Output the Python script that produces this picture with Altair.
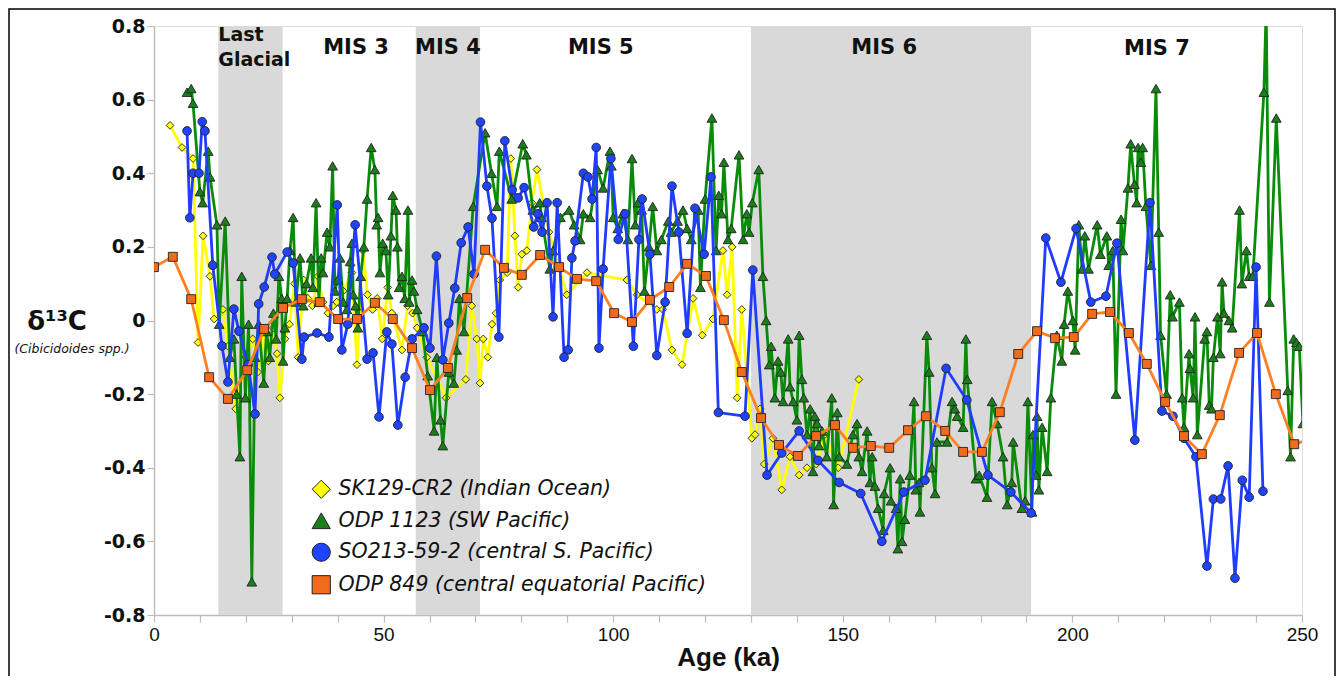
import altair as alt
import pandas as pd

# ---------------- data ----------------
series_names = ["SK129-CR2 (Indian Ocean)", "ODP 1123 (SW Pacific)",
                "SO213-59-2 (central S. Pacific)", "ODP 849 (central equatorial Pacific)"]

yellow_age = [3.5, 6.1, 8.5, 9.6, 10.7, 12.2, 13.1, 15.0, 16.1, 17.8, 20.0, 21.5, 22.6, 24.0, 24.9, 26.0,
              26.8, 27.4, 28.5, 29.5, 30.6, 31.4, 32.6, 33.5, 34.5, 35.7, 36.8, 37.9, 39.0, 39.8, 41.2,
              43.1, 44.2, 45.5, 46.5, 47.6, 48.6, 49.7, 50.9, 51.8, 54.0, 55.2, 56.3, 57.3, 59.4, 63.6,
              67.9, 69.2, 70.3, 71.0, 71.7, 72.7, 73.6, 74.5, 75.3, 76.9, 77.7, 78.6, 79.3, 80.1, 81.2,
              82.3, 83.4, 86.0, 89.9, 94.3, 103.0, 105.2, 109.5, 110.8, 112.8, 115.0, 117.4, 119.4,
              121.7, 123.9, 124.8, 125.9, 127.0, 128.0, 130.2, 130.9, 132.0, 132.9, 134.8, 136.7, 138.5,
              140.5, 142.2, 144.2, 146.1, 149.0, 153.5]
yellow_val = [0.53, 0.47, 0.44, -0.06, 0.23, 0.12, 0.004, 0.03, -0.07, -0.24, -0.10, -0.05, -0.14, -0.03,
              -0.11, -0.02, -0.09, -0.21, -0.05, -0.01, 0.10, -0.10, 0.11, 0.06, 0.04, 0.12, 0.05, 0.02,
              0.04, 0.05, 0.08, 0.13, -0.12, 0.19, 0.07, 0.03, 0.06, -0.05, 0.09, 0.02, -0.08, 0.04, 0.02,
              -0.02, -0.10, -0.21, -0.16, 0.04, -0.05, -0.17, -0.05, -0.10, -0.01, 0.02, 0.11, 0.13, 0.44,
              0.23, 0.09, 0.18, 0.19, 0.32, 0.41, 0.24, 0.07, 0.13, 0.11, 0.07, 0.03, 0.03, -0.08, -0.12,
              0.06, -0.04, 0.004, 0.19, 0.07, 0.20, -0.21, 0.03, -0.32, -0.31, -0.24, -0.39, -0.32, -0.46,
              -0.37, -0.42, -0.40, -0.39, -0.31, -0.40, -0.16]

green_age = [7.2, 8.1, 8.5, 10.0, 10.6, 11.8, 12.2, 13.7, 14.2, 15.5, 16.5, 17.4, 18.0, 18.7, 19.1, 19.9,
             20.6, 21.3, 22.0, 22.8, 23.9, 24.5, 25.2, 26.0, 26.6, 27.2, 27.8, 28.1, 28.5, 29.0, 29.6,
             30.3, 30.9, 31.8, 32.5, 33.2, 34.2, 34.6, 35.3, 35.9, 36.4, 36.8, 37.7, 38.3, 38.9, 39.4,
             40.0, 40.5, 41.2, 42.0, 42.7, 43.1, 43.4, 43.9, 44.4, 45.0, 45.7, 46.4, 47.3, 48.1, 48.5,
             48.8, 49.2, 49.8, 50.5, 51.0, 51.6, 52.0, 52.7, 53.0, 53.4, 54.0, 54.6, 55.3, 55.6, 56.2,
             56.6, 57.3, 58.5, 59.6, 61.0, 61.6, 62.4, 62.9, 64.2, 65.3, 65.9, 66.5, 67.5, 69.5, 72.1,
             73.5, 74.7, 75.2, 77.9, 80.3, 81.1, 82.5, 84.0, 84.4, 86.2, 86.9, 88.5, 90.4, 91.5, 92.8,
             93.5, 95.0, 96.6, 97.8, 99.3, 99.6, 100.0, 101.0, 102.1, 103.2, 104.1, 104.8, 105.4, 106.2,
             106.8, 107.8, 108.6, 109.5, 110.5, 112.0, 112.6, 114.0, 115.2, 116.1, 117.0, 118.5, 119.0,
             120.0, 121.5, 122.4, 123.0, 123.6, 124.1, 125.0, 125.7, 127.4, 128.3, 129.1, 129.6, 130.3,
             131.7, 132.6, 133.3, 134.0, 134.4, 135.2, 135.9, 136.5, 137.0, 138.1, 138.5, 139.2, 140.0,
             140.5, 141.1, 141.5, 142.2, 142.9, 143.5, 143.9, 144.4, 144.8, 145.5, 146.5, 147.6, 148.0,
             148.8, 149.2, 150.9, 152.2, 153.1, 153.5, 154.2, 155.3, 155.9, 156.4, 157.0, 157.7, 158.8,
             159.0, 160.3, 160.5, 161.6, 162.0, 162.5, 162.9, 163.5, 164.6, 165.5, 165.9, 166.6, 166.8,
             168.3, 168.8, 169.4, 170.1, 170.5, 172.7, 173.8, 174.4, 174.9, 176.2, 176.8, 177.1, 179.0,
             179.7, 181.4, 182.5, 183.6, 184.9, 185.8, 186.8, 187.1, 189.0, 189.7, 190.3, 191.2, 191.4,
             192.1, 192.3, 192.7, 193.4, 194.5, 195.3, 196.6, 197.7, 198.2, 199.0, 200.1, 200.6, 201.4,
             202.1, 202.7, 203.5, 205.4, 206.1, 207.5, 207.9, 208.8, 209.5, 210.6, 211.0, 212.1, 212.7,
             213.5, 214.0, 214.3, 214.9, 215.3, 216.0, 217.1, 218.2, 218.8, 219.2, 220.5, 221.3, 221.8,
             223.3, 223.9, 224.3, 225.4, 225.6, 226.3, 226.7, 227.2, 228.8, 229.3, 229.8, 230.3, 230.7,
             231.6, 232.2, 232.6, 233.0, 234.1, 234.8, 236.4, 236.9, 237.9, 238.5, 239.3, 241.7, 242.2,
             242.9, 244.4, 246.9, 247.5, 248.2, 248.8, 249.4, 250.2]
green_val = [0.62, 0.63, 0.59, 0.35, 0.32, 0.46, 0.39, 0.26, -0.01, 0.27, -0.10, -0.05, -0.20, -0.37, 0.12,
             -0.21, -0.01, -0.71, -0.10, -0.01, -0.17, -0.03, -0.10, 0.02, -0.05, 0.12, 0.06, -0.11, -0.02,
             0.06, 0.19, 0.28, 0.05, 0.17, 0.04, 0.10, 0.17, 0.09, 0.32, 0.05, 0.17, 0.13, 0.24, 0.20,
             0.42, 0.08, 0.11, 0.17, 0.05, 0.03, 0.16, 0.21, 0.07, 0.04, -0.02, 0.12, 0.20, 0.33, 0.47,
             0.41, 0.26, 0.28, 0.13, 0.21, 0.19, 0.07, 0.23, 0.34, 0.30, 0.20, 0.09, 0.12, 0.06, 0.30,
             0.05, 0.11, 0.08, 0.03, -0.03, -0.15, -0.30, -0.10, -0.27, -0.34, -0.14, -0.17, -0.08, 0.06,
             -0.03, 0.31, 0.51, 0.40, 0.31, 0.46, 0.33, 0.48, 0.45, 0.30, 0.32, 0.28, 0.14, 0.19, 0.28,
             0.30, 0.26, 0.22, 0.29, 0.28, 0.41, 0.36, 0.46, 0.42, 0.28, 0.25, 0.29, 0.22, 0.44, 0.26,
             0.32, 0.30, 0.08, 0.20, 0.31, 0.19, 0.22, 0.27, 0.24, 0.27, 0.30, 0.25, 0.22, 0.30, 0.09,
             0.33, 0.55, 0.19, 0.34, 0.29, 0.43, 0.22, 0.25, 0.45, 0.22, 0.29, 0.24, 0.32, 0.41, 0.12,
             0.00, -0.12, -0.07, -0.21, -0.11, -0.14, -0.22, -0.05, -0.18, -0.22, -0.27, -0.04, -0.16,
             -0.21, -0.31, -0.24, -0.41, -0.26, -0.28, -0.34, -0.30, -0.37, -0.21, -0.50, -0.25, -0.37,
             -0.39, -0.31, -0.28, -0.37, -0.41, -0.30, -0.44, -0.37, -0.45, -0.51, -0.57, -0.47, -0.40,
             -0.49, -0.51, -0.62, -0.43, -0.60, -0.54, -0.42, -0.22, -0.46, -0.44, -0.52, -0.04, -0.14,
             -0.40, -0.47, -0.33, -0.33, -0.22, -0.24, -0.26, -0.29, -0.05, -0.16, -0.43, -0.42, -0.48,
             -0.22, -0.28, -0.37, -0.50, -0.44, -0.33, -0.51, -0.49, -0.22, -0.52, -0.31, -0.42, -0.26,
             -0.46, -0.29, -0.41, -0.21, -0.04, -0.11, -0.01, 0.08, 0.00, -0.08, 0.26, 0.14, 0.23, 0.14,
             0.26, 0.18, 0.23, 0.15, 0.19, -0.20, 0.275, 0.19, 0.36, 0.48, 0.37, 0.32, 0.47, 0.43, 0.47,
             0.31, 0.15, 0.63, 0.24, -0.04, -0.20, 0.07, 0.01, 0.05, -0.21, -0.29, -0.09, -0.13, -0.21,
             0.01, -0.31, -0.05, -0.03, -0.23, -0.24, -0.10, 0.01, -0.09, 0.105, 0.02, 0.00, -0.02, 0.30,
             0.10, 0.19, 0.12, 0.12, 0.62, 0.85, 0.05, 0.55, -0.19, -0.37, -0.05, -0.06, -0.07, -0.28]

blue_age = [7.2, 7.8, 8.5, 9.8, 10.5, 11.1, 12.8, 14.8, 16.1, 17.4, 18.5, 20.5, 22.0, 22.8, 24.0, 25.7,
            26.3, 29.0, 30.3, 32.2, 32.7, 35.5, 38.1, 39.9, 40.9, 42.2, 43.8, 46.4, 47.7, 49.0, 50.7,
            51.8, 53.1, 54.7, 56.2, 58.8, 60.1, 61.5, 62.9, 64.2, 65.5, 66.9, 68.4, 69.7, 71.1, 72.5,
            73.6, 75.1, 76.4, 78.0, 79.3, 80.6, 82.7, 83.6, 84.5, 85.6, 86.9, 87.8, 89.3, 90.2, 91.0,
            91.7, 93.5, 94.5, 95.4, 96.3, 96.9, 97.8, 99.5, 101.1, 102.6, 104.4, 105.6, 106.3, 108.0,
            109.5, 111.3, 112.8, 114.3, 116.1, 117.8, 119.8, 121.3, 122.9, 128.7, 130.4, 133.5, 136.7,
            140.5, 144.6, 149.2, 153.9, 158.5, 163.3, 167.9, 172.5, 177.0, 181.6, 186.6, 191.0, 194.2,
            197.5, 200.8, 204.0, 207.3, 209.7, 213.6, 216.9, 219.5, 221.9, 224.3, 226.9, 229.3, 230.7,
            232.3, 233.9, 235.4, 237.0, 238.5, 240.0, 241.5]
blue_val = [0.515, 0.279, 0.40, 0.40, 0.54, 0.515, 0.15, -0.069, -0.167, 0.031, -0.029, -0.12, -0.254,
            0.045, 0.091, 0.172, 0.126, 0.186, 0.156, -0.105, -0.045, -0.034, -0.045, 0.314, -0.080,
            -0.010, 0.26, -0.105, -0.088, -0.262, -0.031, -0.064, -0.284, -0.154, -0.050, -0.020,
            -0.075, 0.175, -0.107, -0.007, 0.088, 0.211, 0.254, 0.126, 0.539, 0.365, 0.278, -0.045,
            0.488, 0.355, 0.333, 0.361, 0.254, 0.29, 0.24, 0.32, 0.01, 0.32, -0.10, -0.08, 0.17, 0.216,
            0.40, 0.39, 0.33, 0.47, -0.075, 0.14, 0.44, 0.22, 0.29, -0.07, 0.22, 0.33, 0.18, -0.095,
            0.05, 0.365, 0.24, -0.035, 0.305, 0.18, 0.39, -0.25, -0.26, 0.137, -0.42, -0.36, -0.30,
            -0.38, -0.44, -0.47, -0.60, -0.466, -0.434, -0.13, -0.216, -0.42, -0.466, -0.523, 0.224,
            0.104, 0.25, 0.05, 0.066, 0.21, -0.325, 0.32, -0.246, -0.26, -0.32, -0.37, -0.667, -0.485,
            -0.485, -0.395, -0.70, -0.434, -0.48, 0.145, -0.464]

orange_age = [0, 4.1, 8.1, 12.0, 16.1, 20.3, 24.0, 28.1, 32.2, 36.1, 40.1, 44.2, 48.1, 52.0, 56.2, 60.1,
              64.0, 68.2, 72.1, 76.2, 80.1, 84.1, 88.2, 92.1, 96.3, 100.2, 104.1, 108.0, 112.2, 116.1,
              120.2, 124.1, 128.0, 132.2, 136.1, 140.2, 144.2, 148.3, 152.2, 156.1, 160.1, 164.2,
              168.1, 172.3, 176.2, 180.3, 184.2, 188.2, 192.3, 196.2, 200.3, 204.3, 208.2, 212.3,
              216.2, 220.2, 224.3, 228.2, 232.1, 236.3, 240.2, 244.3, 248.3, 252.3]
orange_val = [0.145, 0.173, 0.058, -0.154, -0.213, -0.135, -0.023, 0.034, 0.058, 0.050, 0.004, 0.004,
              0.048, 0.004, -0.075, -0.189, -0.129, 0.061, 0.192, 0.143, 0.124, 0.178, 0.145, 0.113,
              0.107, 0.020, -0.004, 0.056, 0.091, 0.154, 0.121, 0.001, -0.140, -0.265, -0.338, -0.368,
              -0.314, -0.284, -0.346, -0.341, -0.346, -0.298, -0.260, -0.300, -0.357, -0.357, -0.249,
              -0.091, -0.029, -0.048, -0.045, 0.018, 0.023, -0.034, -0.118, -0.221, -0.314, -0.363,
              -0.257, -0.088, -0.034, -0.200, -0.336, -0.32]

shade_start = [14, 57, 130]
shade_end = [28, 71, 191]

mis_text = ["MIS 3", "MIS 4", "MIS 5", "MIS 6", "MIS 7"]
mis_age = [44.0, 64.0, 97.3, 159.0, 218.4]
mis_val = [0.724, 0.724, 0.724, 0.724, 0.720]

glacial_text = ["Last", "Glacial"]
glacial_age = [14.0, 14.0]
glacial_val = [0.758, 0.692]

x_ticks = [0, 10, 20, 30, 40, 50, 60, 70, 80, 90, 100, 110, 120, 130, 140, 150, 160, 170, 180, 190,
           200, 210, 220, 230, 240, 250]
y_ticks = [-0.8, -0.6, -0.4, -0.2, 0, 0.2, 0.4, 0.6, 0.8]

# ---------------- styling ----------------
line_colors = ["#ffff00", "#0a8c0a", "#1f3cff", "#ff7f24"]
point_colors = ["#ffff10", "#1a7f1a", "#1e44ff", "#f26a1b"]
shapes = ["diamond", "triangle-up", "circle", "square"]
point_sizes = [60, 95, 75, 80]

rows = []
for name, ages, vals in zip(series_names,
                            [yellow_age, green_age, blue_age, orange_age],
                            [yellow_val, green_val, blue_val, orange_val]):
    for a, v in zip(ages, vals):
        rows.append({"series": name, "age": a, "d13C": v})
df = pd.DataFrame(rows)

shade_df = pd.DataFrame({"start": shade_start, "end": shade_end})
mis_df = pd.DataFrame({"label": mis_text, "age": mis_age, "d13C": mis_val})
glac_df = pd.DataFrame({"label": glacial_text, "age": glacial_age, "d13C": glacial_val})

axis_gray = "#bdbdbd"
x_axis = alt.Axis(values=x_ticks, labelExpr="datum.value % 50 == 0 ? datum.label : ''",
                  format="d", title="Age (ka)", titleFont="Liberation Sans", titleFontSize=26,
                  titleFontWeight="bold", titleColor="#111", titlePadding=0,
                  labelFont="Liberation Sans", labelFontSize=19, labelColor="#111",
                  labelPadding=3, labelFlush=False, labelOverlap=False,
                  domainColor=axis_gray, domainWidth=1.5, tickColor=axis_gray, tickSize=7,
                  tickWidth=1.2, grid=False)
y_axis = alt.Axis(values=y_ticks,
                  labelExpr="datum.value == 0 ? '0' : (datum.value < 0 ? '-' : '') + format(abs(datum.value), '.1f')",
                  title=None, labelFont="DejaVu Sans", labelFontWeight="bold", labelFontSize=19,
                  labelColor="#111", labelPadding=2, labelFlush=False, labelOverlap=False,
                  domainColor=axis_gray, domainWidth=1.5, tickColor=axis_gray, tickSize=7,
                  tickWidth=1.2, grid=False)

xs = alt.Scale(domain=[0, 250], nice=False, zero=False)
ys = alt.Scale(domain=[-0.8, 0.8], nice=False, zero=False)
X = alt.X("age:Q", scale=xs, axis=x_axis)
Y = alt.Y("d13C:Q", scale=ys, axis=y_axis)

legend = alt.Legend(title=None, orient="none", legendX=157, legendY=453, direction="vertical",
                    symbolSize=330, symbolStrokeColor="#222", symbolStrokeWidth=1,
                    labelFont="DejaVu Sans", labelFontStyle="italic", labelFontSize=20.5,
                    labelColor="#111", rowPadding=9.5, labelOffset=7, padding=0, labelLimit=800)
color_enc = alt.Color("series:N", scale=alt.Scale(domain=series_names, range=point_colors), legend=legend)
shape_enc = alt.Shape("series:N", scale=alt.Scale(domain=series_names, range=shapes), legend=legend)

shade = alt.Chart(shade_df).mark_rect(color="#d9d9d9").encode(
    x=alt.X("start:Q", scale=xs, axis=x_axis), x2="end:Q")

layers = [shade]
for i, name in enumerate(series_names):
    base = alt.Chart(df).transform_filter(alt.datum.series == name)
    layers.append(base.mark_line(color=line_colors[i], strokeWidth=2.8, clip=True).encode(x=X, y=Y))
    layers.append(base.mark_point(filled=True, opacity=1, size=point_sizes[i], stroke="#222",
                                  strokeWidth=0.9, clip=True)
                  .encode(x=X, y=Y, color=color_enc, shape=shape_enc))

mis = alt.Chart(mis_df).mark_text(font="DejaVu Sans", fontWeight="bold", fontSize=21, color="#111",
                                  align="center", baseline="alphabetic").encode(x=X, y=Y, text="label:N")
glac = alt.Chart(glac_df).mark_text(font="DejaVu Sans", fontWeight="bold", fontSize=19, color="#111",
                                    align="left", baseline="alphabetic").encode(x=X, y=Y, text="label:N")
layers += [mis, glac]

ytitle_df = pd.DataFrame({"t": ["δ¹³C"]})
ysub_df = pd.DataFrame({"t": ["(Cibicidoides spp.)"]})
ytitle = alt.Chart(ytitle_df).mark_text(font="DejaVu Sans", fontWeight="bold", fontSize=26, color="#111",
                                        align="center", baseline="middle").encode(
    x=alt.value(-97), y=alt.value(296), text="t:N")
ysub = alt.Chart(ysub_df).mark_text(font="DejaVu Sans", fontStyle="italic", fontSize=12.5, color="#111",
                                    align="center", baseline="middle").encode(
    x=alt.value(-82), y=alt.value(323), text="t:N")
frame = alt.Chart(pd.DataFrame({"f": [0]})).mark_rect(fillOpacity=0, stroke="#000", strokeWidth=1.5).encode(
    x=alt.value(-145), x2=alt.value(1181), y=alt.value(-17), y2=alt.value(720))
layers += [ytitle, ysub, frame]

chart = alt.layer(*layers).properties(
    width=1148, height=589,
    autosize=alt.AutoSizeParams(type="none"),
    padding={"left": 146, "top": 18, "right": 34, "bottom": 61},
).configure_view(stroke=None).configure(background="white")

chart.save("out.html", embed_options={"renderer": "svg", "actions": False})
